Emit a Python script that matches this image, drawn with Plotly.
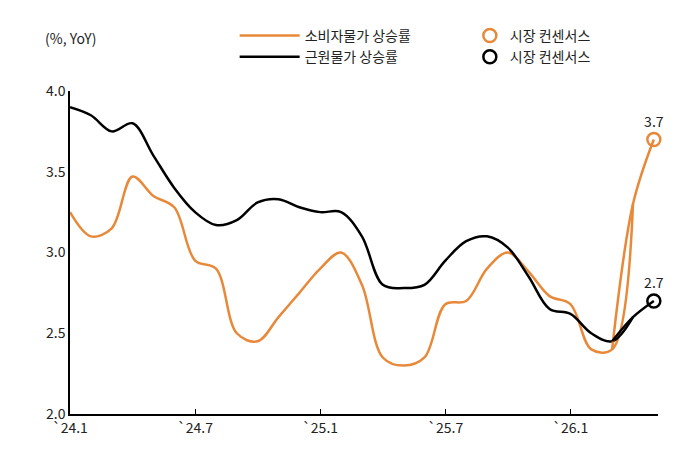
import plotly.graph_objects as go

months = list(range(29))
tick_vals = [0, 6, 12, 18, 24]
tick_text = ["`24.1", "`24.7", "`25.1", "`25.7", "`26.1"]
cpi = [3.25, 3.1, 3.15, 3.47, 3.35, 3.28, 2.95, 2.9, 2.5, 2.45, 2.6, 2.75, 2.9, 3.0, 2.8, 2.35, 2.3, 2.35, 2.68, 2.7, 2.9, 3.0, 2.88, 2.73, 2.68, 2.4, 2.4, 3.3, 3.7]
core = [3.9, 3.85, 3.75, 3.8, 3.6, 3.4, 3.25, 3.17, 3.2, 3.31, 3.33, 3.28, 3.25, 3.25, 3.1, 2.8, 2.78, 2.8, 2.95, 3.07, 3.1, 3.03, 2.85, 2.65, 2.62, 2.5, 2.45, 2.6, 2.7]
names = ["소비자물가 상승률", "근원물가 상승률", "시장 컨센서스"]
orange, black = "#E8893A", "#000000"
font = "Noto Sans CJK KR"

fig = go.Figure()
fig.add_trace(go.Scatter(x=months[:-1], y=cpi[:-1], mode="lines", name=names[0],
                         line=dict(color=orange, width=2.5, shape="spline"), legend="legend"))
fig.add_trace(go.Scatter(x=months[:-1], y=core[:-1], mode="lines", name=names[1],
                         line=dict(color=black, width=2.5, shape="spline"), legend="legend"))
fig.add_trace(go.Scatter(x=months[-3:], y=cpi[-3:], mode="lines", showlegend=False,
                         line=dict(color=orange, width=2.5, shape="spline")))
fig.add_trace(go.Scatter(x=months[-3:], y=core[-3:], mode="lines", showlegend=False,
                         line=dict(color=black, width=2.5, shape="spline")))
fig.add_trace(go.Scatter(x=[months[-1]], y=[cpi[-1]], mode="markers+text", name=names[2],
                         text=[f"{cpi[-1]:.1f}"], textposition="top center",
                         textfont=dict(size=14, color="#222"),
                         marker=dict(symbol="circle-open", size=13, color=orange,
                                     line=dict(width=2.5, color=orange)),
                         cliponaxis=False, legend="legend2"))
fig.add_trace(go.Scatter(x=[months[-1]], y=[core[-1]], mode="markers+text", name=names[2],
                         text=[f"{core[-1]:.1f}"], textposition="top center",
                         textfont=dict(size=14, color="#222"),
                         marker=dict(symbol="circle-open", size=13, color=black,
                                     line=dict(width=2.5, color=black)),
                         cliponaxis=False, legend="legend2"))

fig.update_layout(
    width=674, height=449, plot_bgcolor="white", paper_bgcolor="white",
    font=dict(family=font, size=14, color="#222"),
    margin=dict(l=62, r=24, t=72, b=43),
    xaxis=dict(range=[0, 28.2], tickvals=tick_vals, ticktext=tick_text, showgrid=False,
               showline=True, linecolor="#000", linewidth=1.5, ticks="inside", ticklen=5,
               tickcolor="#000", zeroline=False, tickfont=dict(size=14)),
    yaxis=dict(range=[2.0, 4.0], dtick=0.5, tickformat=".1f", showgrid=False,
               showline=True, linecolor="#000", linewidth=1.5, ticks="", zeroline=False,
               tickfont=dict(size=14)),
    legend=dict(x=0.28, y=1.22, xanchor="left", yanchor="top", bgcolor="rgba(0,0,0,0)",
                font=dict(size=14), itemwidth=60, tracegroupgap=2),
    legend2=dict(x=0.68, y=1.22, xanchor="left", yanchor="top", bgcolor="rgba(0,0,0,0)",
                 font=dict(size=14), itemwidth=30),
    annotations=[dict(text="(%, YoY)", x=0, y=1.2, xref="paper", yref="paper",
                      xanchor="center", yanchor="top", showarrow=False, font=dict(size=14))],
)
fig.write_html("out.html")
